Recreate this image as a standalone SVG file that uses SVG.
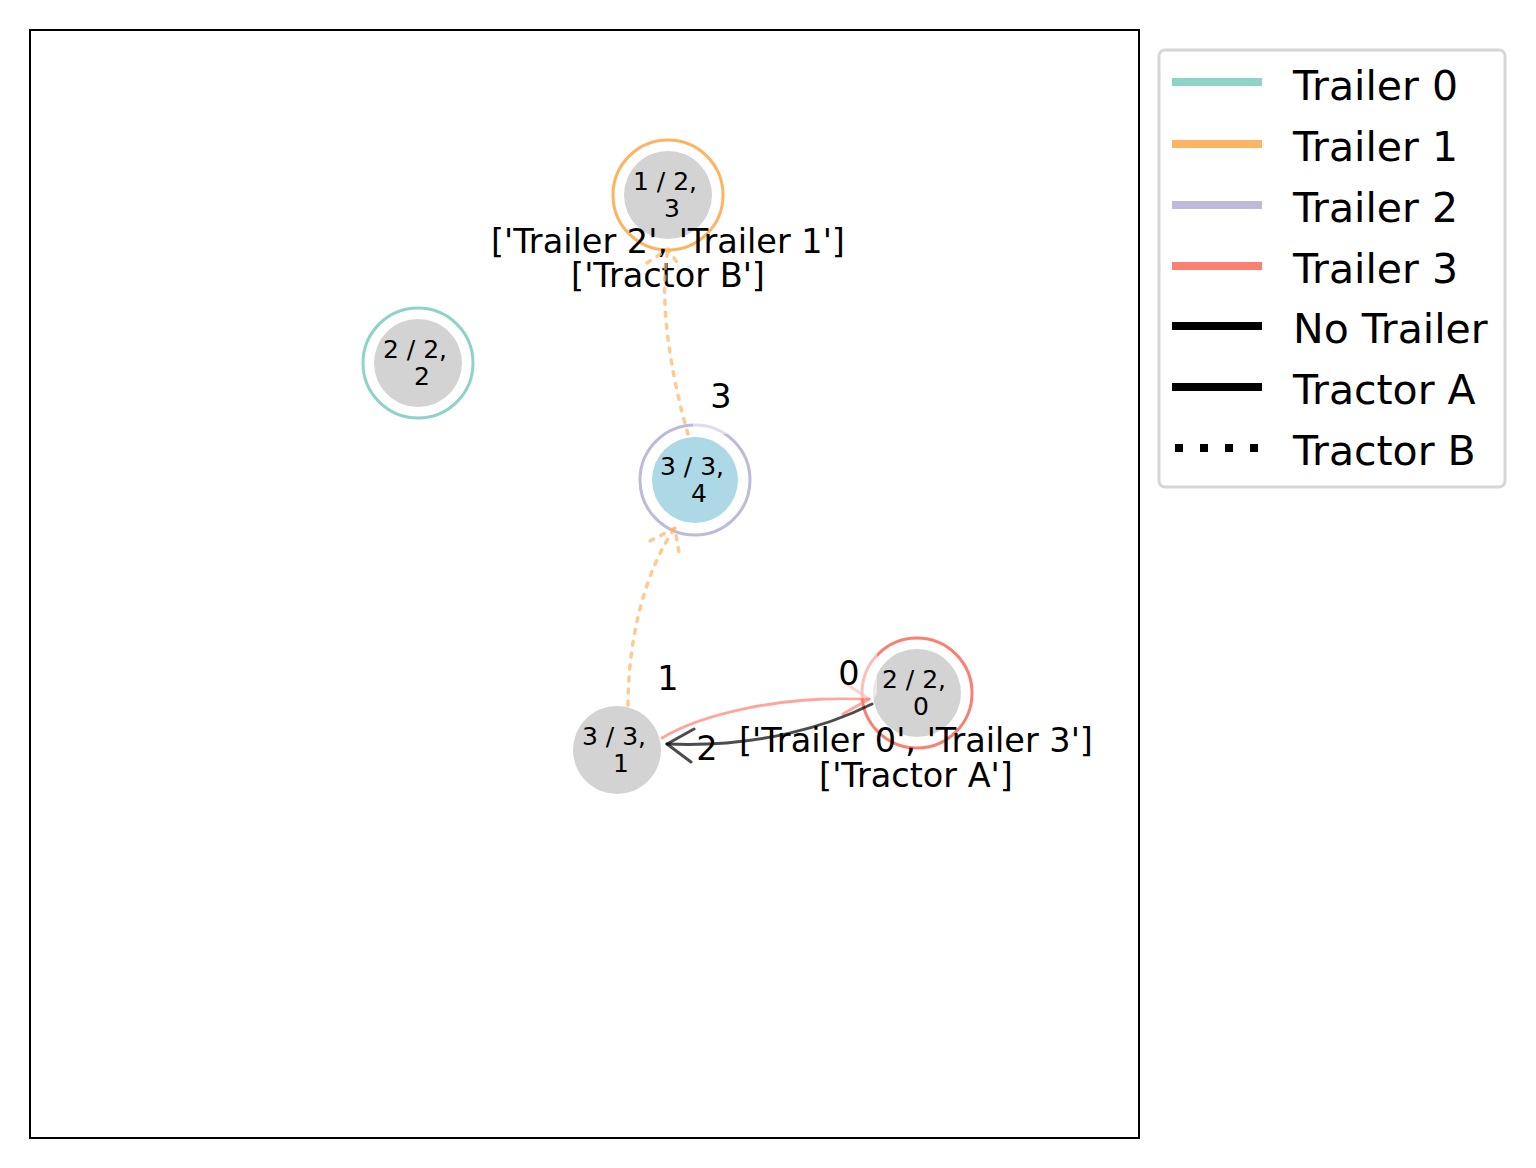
<svg xmlns="http://www.w3.org/2000/svg" width="1536" height="1168" viewBox="0 0 1536 1168">
<style>
text{font-family:"DejaVu Sans","Liberation Sans",sans-serif;fill:#000}
.nl{font-size:25px;text-anchor:middle}
.al{font-size:33.5px;text-anchor:middle}
.el{font-size:33.5px;text-anchor:middle}
.lg{font-size:41px}
.core{fill:#d3d3d3}
.ring{fill:none;stroke-width:3}
.dot{fill:none;stroke:#fdb462;stroke-opacity:0.7;stroke-width:3.5;stroke-dasharray:4 8;stroke-linecap:round;stroke-linejoin:round}
.red{fill:none;stroke:#fb8072;stroke-opacity:0.7;stroke-width:3;stroke-linecap:round;stroke-linejoin:round}
.blk{fill:none;stroke:#000;stroke-opacity:0.7;stroke-width:3;stroke-linecap:round;stroke-linejoin:round}
.veil{fill:#fff;fill-opacity:0.5}
</style>
<rect x="0" y="0" width="1536" height="1168" fill="#fff"/>
<rect x="30" y="30" width="1109" height="1108" fill="none" stroke="#000" stroke-width="2"/>

<g id="node-3">
<circle class="core" cx="668" cy="195" r="44"/>
<circle class="ring" cx="668" cy="195" r="55" stroke="#fdb462"/>
<text class="nl" x="665" y="190">1 / 2,</text>
<text class="nl" x="672" y="217">3</text>
<text class="al" x="668" y="253">['Trailer 2', 'Trailer 1']</text>
<text class="al" x="668" y="287">['Tractor B']</text>
</g>
<g id="node-2">
<circle class="core" cx="418" cy="363" r="44"/>
<circle class="ring" cx="418" cy="363" r="55" stroke="#8dd3c7"/>
<text class="nl" x="415" y="358">2 / 2,</text>
<text class="nl" x="422" y="385">2</text>
</g>
<g id="node-4">
<circle cx="695" cy="480" r="43" fill="#add8e6"/>
<circle class="ring" cx="695" cy="480" r="55" stroke="#bebada"/>
<text class="nl" x="692" y="475">3 / 3,</text>
<text class="nl" x="699" y="502">4</text>
</g>
<g id="node-1">
<circle class="core" cx="617" cy="750" r="44"/>
<text class="nl" x="614" y="745">3 / 3,</text>
<text class="nl" x="621" y="772">1</text>
</g>
<g id="node-0">
<circle class="core" cx="917" cy="693" r="44"/>
<circle class="ring" cx="917" cy="693" r="55" stroke="#fb8072"/>
<text class="nl" x="914" y="688">2 / 2,</text>
<text class="nl" x="921" y="715">0</text>
<text class="al" x="916" y="752">['Trailer 0', 'Trailer 3']</text>
<text class="al" x="916" y="787">['Tractor A']</text>
</g>

<g id="connectors">
<path class="dot" d="M628,705 C628,640 645,570 675,528"/>
<path class="dot" d="M650,541 L675,528 L679,553"/>
<path class="dot" d="M688,434 C672,380 658,300 668,249"/>
<path class="dot" d="M647,263 L668,249 L680,267"/>
<path class="red" d="M662,738 C700,715 780,695 869,699"/>
<path class="red" d="M845,683 L869,699 L843,714"/>
<path class="blk" d="M872,704 C830,725 760,748 667,744"/>
<path class="blk" d="M694,729 L667,744 L691,762"/>
</g>

<g id="edge-labels">
<rect class="veil" x="693" y="372" width="56" height="62" rx="6"/>
<text class="el" x="721" y="408">3</text>
<text class="el" x="668" y="690">1</text>
<text class="el" x="707" y="760">2</text>
<rect class="veil" x="819" y="645" width="58" height="53" rx="6"/>
<text class="el" x="849" y="685">0</text>
</g>

<g id="legend">
<rect x="1159" y="50" width="346" height="437" rx="6" fill="#fff" stroke="#d6d6d6" stroke-width="3"/>
<line x1="1172" y1="82" x2="1262" y2="82" stroke="#8dd3c7" stroke-width="8"/>
<line x1="1172" y1="144" x2="1262" y2="144" stroke="#fdb462" stroke-width="8"/>
<line x1="1172" y1="205" x2="1262" y2="205" stroke="#bebada" stroke-width="8"/>
<line x1="1172" y1="266" x2="1262" y2="266" stroke="#fb8072" stroke-width="8"/>
<line x1="1172" y1="326" x2="1262" y2="326" stroke="#000" stroke-width="8"/>
<line x1="1172" y1="387" x2="1262" y2="387" stroke="#000" stroke-width="8"/>
<line x1="1175" y1="448" x2="1262" y2="448" stroke="#000" stroke-width="8" stroke-dasharray="8 17"/>
<text class="lg" x="1293" y="100">Trailer 0</text>
<text class="lg" x="1293" y="161">Trailer 1</text>
<text class="lg" x="1293" y="222">Trailer 2</text>
<text class="lg" x="1293" y="283">Trailer 3</text>
<text class="lg" x="1293" y="343">No Trailer</text>
<text class="lg" x="1293" y="404">Tractor A</text>
<text class="lg" x="1293" y="465">Tractor B</text>
</g>
</svg>
